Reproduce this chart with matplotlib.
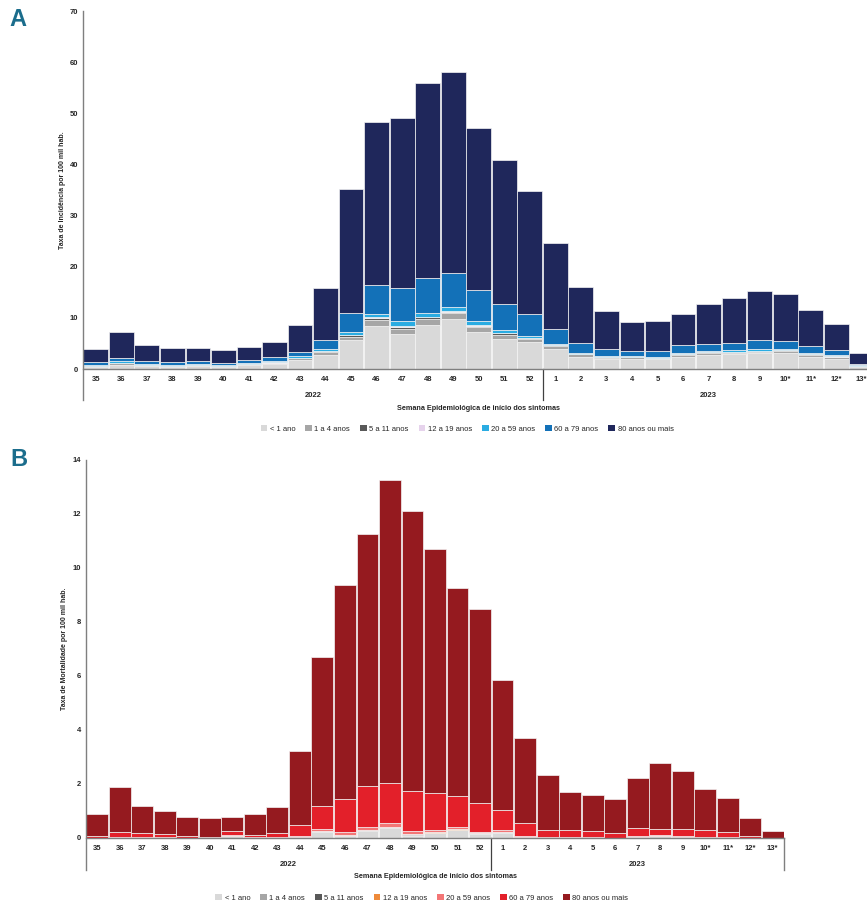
import numpy as np
import matplotlib.pyplot as plt
from matplotlib.patches import Patch

plt.rcParams['font.family'] = ['Liberation Sans', 'DejaVu Sans']

# -----------------------------
# DADOS
# -----------------------------
semanas = ['35', '36', '37', '38', '39', '40', '41', '42', '43', '44', '45', '46',
           '47', '48', '49', '50', '51', '52', '1', '2', '3', '4', '5', '6', '7',
           '8', '9', '10*', '11*', '12*', '13*']
anos = ['2022', '2023']
faixas = ['< 1 ano', '1 a 4 anos', '5 a 11 anos', '12 a 19 anos',
          '20 a 59 anos', '60 a 79 anos', '80 anos ou mais']

# A - taxa de incidencia por faixa etaria
inc_menor1 = [0.4, 0.8, 0.5, 0.4, 0.6, 0.4, 0.7, 0.9, 1.8, 2.7, 5.7, 8.4, 6.8, 8.6, 9.8, 7.2, 5.8, 5.2,
              3.9, 2.4, 1.9, 2.0, 1.9, 2.4, 2.7, 2.9, 3.1, 3.2, 2.3, 2.0, 0.4]
inc_1a4 = [0.2, 0.3, 0.2, 0.2, 0.2, 0.2, 0.3, 0.3, 0.35, 0.6, 0.6, 1.2, 1.1, 1.1, 1.1, 1.1, 0.8, 0.7,
           0.5, 0.5, 0.3, 0.3, 0.2, 0.4, 0.4, 0.3, 0.3, 0.3, 0.5, 0.3, 0.1]
inc_5a11 = [0.03, 0.05, 0.03, 0.03, 0.03, 0.03, 0.03, 0.05, 0.05, 0.15, 0.3, 0.4, 0.4, 0.4, 0.3, 0.2, 0.4, 0.2,
            0.2, 0.1, 0.1, 0.05, 0.05, 0.15, 0.15, 0.15, 0.15, 0.15, 0.1, 0.1, 0.05]
inc_12a19 = [0.02, 0.03, 0.02, 0.02, 0.02, 0.02, 0.02, 0.03, 0.03, 0.05, 0.05, 0.1, 0.1, 0.1, 0.1, 0.1, 0.05, 0.05,
             0.05, 0.03, 0.03, 0.03, 0.02, 0.03, 0.05, 0.05, 0.05, 0.05, 0.05, 0.05, 0.02]
inc_20a59 = [0.2, 0.3, 0.2, 0.2, 0.2, 0.15, 0.2, 0.25, 0.3, 0.35, 0.65, 0.7, 0.9, 0.8, 0.9, 0.7, 0.55, 0.35,
             0.25, 0.17, 0.17, 0.12, 0.13, 0.22, 0.3, 0.3, 0.4, 0.3, 0.25, 0.25, 0.13]
inc_60a79 = [0.45, 0.62, 0.65, 0.55, 0.45, 0.4, 0.55, 0.77, 0.77, 1.85, 3.7, 5.6, 6.5, 6.8, 6.5, 6.1, 5.2, 4.2,
             2.9, 1.9, 1.5, 1.1, 1.2, 1.4, 1.3, 1.4, 1.7, 1.5, 1.3, 1.0, 0.3]
inc_80mais = [2.6, 5.1, 3.0, 2.7, 2.7, 2.6, 2.5, 3.0, 5.3, 10.1, 24.1, 31.8, 33.3, 38.2, 39.4, 31.7, 28.0, 24.2,
              16.8, 10.9, 7.3, 5.5, 5.9, 6.2, 7.9, 8.8, 9.6, 9.1, 7.0, 5.1, 2.2]

# B - taxa de mortalidade por faixa etaria
mort_menor1 = [0, 0.03, 0, 0, 0, 0, 0.07, 0, 0, 0.04, 0.22, 0.08, 0.26, 0.38, 0.08, 0.17, 0.28, 0.16,
               0.2, 0.03, 0, 0.03, 0, 0, 0.04, 0.07, 0.03, 0, 0, 0, 0]
mort_1a4 = [0, 0, 0, 0, 0, 0, 0.02, 0, 0, 0, 0.04, 0.02, 0.02, 0.02, 0.04, 0.03, 0.02, 0.01,
            0.01, 0, 0, 0, 0, 0, 0, 0.01, 0, 0, 0, 0, 0]
mort_5a11 = [0, 0, 0, 0, 0, 0, 0, 0, 0, 0, 0.01, 0.01, 0.01, 0, 0.02, 0, 0, 0,
             0, 0, 0, 0, 0, 0, 0, 0, 0, 0, 0, 0, 0]
mort_12a19 = [0, 0, 0, 0, 0, 0, 0, 0, 0, 0, 0, 0, 0.01, 0, 0, 0.02, 0.03, 0,
              0, 0, 0, 0, 0, 0, 0, 0, 0, 0, 0, 0, 0]
mort_20a59 = [0.01, 0.02, 0.02, 0.02, 0.01, 0.01, 0.03, 0.02, 0.03, 0.03, 0.06, 0.10, 0.12, 0.14, 0.11, 0.08, 0.08, 0.06,
              0.09, 0.03, 0.02, 0.02, 0.02, 0.01, 0.03, 0.03, 0.03, 0.03, 0.02, 0, 0]
mort_60a79 = [0.08, 0.16, 0.18, 0.13, 0.08, 0.02, 0.14, 0.08, 0.17, 0.40, 0.86, 1.23, 1.51, 1.48, 1.50, 1.35, 1.15, 1.05,
              0.74, 0.48, 0.28, 0.25, 0.24, 0.19, 0.29, 0.22, 0.26, 0.27, 0.19, 0.07, 0.01]
mort_80mais = [0.80, 1.67, 0.97, 0.84, 0.70, 0.71, 0.53, 0.80, 0.96, 2.75, 5.51, 7.94, 9.33, 11.23, 10.37, 9.05, 7.70, 7.22,
               4.81, 3.16, 2.02, 1.42, 1.32, 1.24, 1.87, 2.45, 2.17, 1.50, 1.28, 0.68, 0.25]

cores_inc = ['#d9d9d9', '#a6a6a6', '#595959', '#e6d3ec', '#2aace2', '#1371b8', '#1f275b']
cores_mort = ['#d9d9d9', '#a6a6a6', '#595959', '#ee8a3a', '#f37676', '#e3202a', '#951a1f']

serie_inc = [inc_menor1, inc_1a4, inc_5a11, inc_12a19, inc_20a59, inc_60a79, inc_80mais]
serie_mort = [mort_menor1, mort_1a4, mort_5a11, mort_12a19, mort_20a59, mort_60a79, mort_80mais]

cinza = '#7f7f7f'
texto = '#262626'


def painel(ax, series, cores, ymax, passo, ylabel, ylabel_x, desce, y_ano, y_titulo, borda_dir):
    x = np.arange(len(semanas))
    base = np.zeros(len(x))
    for vals, c in zip(series, cores):
        vals = np.array(vals, dtype=float)
        ax.bar(x, vals, bottom=base, width=0.97, color=c, edgecolor='#f4f4f4', linewidth=0.5)
        base += vals

    ax.set_xlim(-0.5, len(x) - 0.5)
    ax.set_ylim(0, ymax)
    ax.set_yticks(np.arange(0, ymax + passo, passo))
    ax.set_xticks(x)
    ax.set_xticklabels(semanas)
    ax.tick_params(axis='both', length=0, labelsize=5.5, colors=texto)
    ax.tick_params(axis='x', pad=5)
    ax.tick_params(axis='y', pad=3.5)
    for lbl in ax.get_xticklabels() + ax.get_yticklabels():
        lbl.set_fontweight('bold')

    for s in ['top', 'right', 'left']:
        ax.spines[s].set_visible(False)
    ax.spines['bottom'].set_color(cinza)
    ax.spines['bottom'].set_linewidth(1.0)

    # eixo vertical e divisorias que descem ate a linha dos anos
    ax.plot([0, 0], [-desce, 1], transform=ax.transAxes, color=cinza, lw=1.0, clip_on=False)
    trans = ax.get_xaxis_transform()
    ax.plot([17.5, 17.5], [-desce, 0], transform=trans, color='#404040', lw=0.9, clip_on=False)
    if borda_dir:
        ax.plot([len(x) - 0.5] * 2, [-desce, 0], transform=trans, color=cinza, lw=1.0, clip_on=False)

    ax.text(8.5, -y_ano, anos[0], transform=trans, ha='center', va='center',
            fontsize=5.5, fontweight='bold', color=texto)
    ax.text(24, -y_ano, anos[1], transform=trans, ha='center', va='center',
            fontsize=5.5, fontweight='bold', color=texto)
    ax.text(0.5, -y_titulo, 'Semana Epidemiológica de início dos sintomas', transform=ax.transAxes,
            ha='center', va='center', fontsize=5.2, fontweight='bold', color=texto)
    ax.text(ylabel_x, 0.5, ylabel, transform=ax.transAxes, rotation=90, ha='center', va='center',
            fontsize=5.0, fontweight='bold', color=texto)


fig = plt.figure(figsize=(8.67, 9.07), dpi=100)

# -----------------------------
# A - INCIDENCIA
# -----------------------------
axA = fig.add_axes([83 / 867, 538 / 907, 791.5 / 867, 358 / 907])
painel(axA, serie_inc, cores_inc, 70, 10, 'Taxa de Incidência por 100 mil hab.', -0.0265,
       0.087, 0.075, 0.109, False)

# -----------------------------
# B - MORTALIDADE
# -----------------------------
axB = fig.add_axes([86 / 867, 69 / 907, 698 / 867, 378 / 907])
painel(axB, serie_mort, cores_mort, 14, 2, 'Taxa de Mortalidade por 100 mil hab.', -0.0315,
       0.085, 0.071, 0.103, True)

# legendas
hA = [Patch(facecolor=c, edgecolor='none') for c in cores_inc]
fig.legend(hA, faixas, loc='center', bbox_to_anchor=(467 / 867, 1 - 429 / 907), ncol=7, frameon=False,
           fontsize=5.5, handlelength=0.9, handleheight=0.9, handletextpad=0.3, columnspacing=1.3,
           labelcolor=texto)
hB = [Patch(facecolor=c, edgecolor='none') for c in cores_mort]
fig.legend(hB, faixas, loc='center', bbox_to_anchor=(422 / 867, 1 - 898 / 907), ncol=7, frameon=False,
           fontsize=5.5, handlelength=0.9, handleheight=0.9, handletextpad=0.3, columnspacing=1.3,
           labelcolor=texto)

# letras dos paineis
fig.text(18 / 867, 1 - 20 / 907, 'A', ha='center', va='center', fontsize=17, fontweight='bold', color='#1b6d8c')
fig.text(19 / 867, 1 - 459 / 907, 'B', ha='center', va='center', fontsize=17, fontweight='bold', color='#1b6d8c')

fig.savefig('out.png', dpi=100)
